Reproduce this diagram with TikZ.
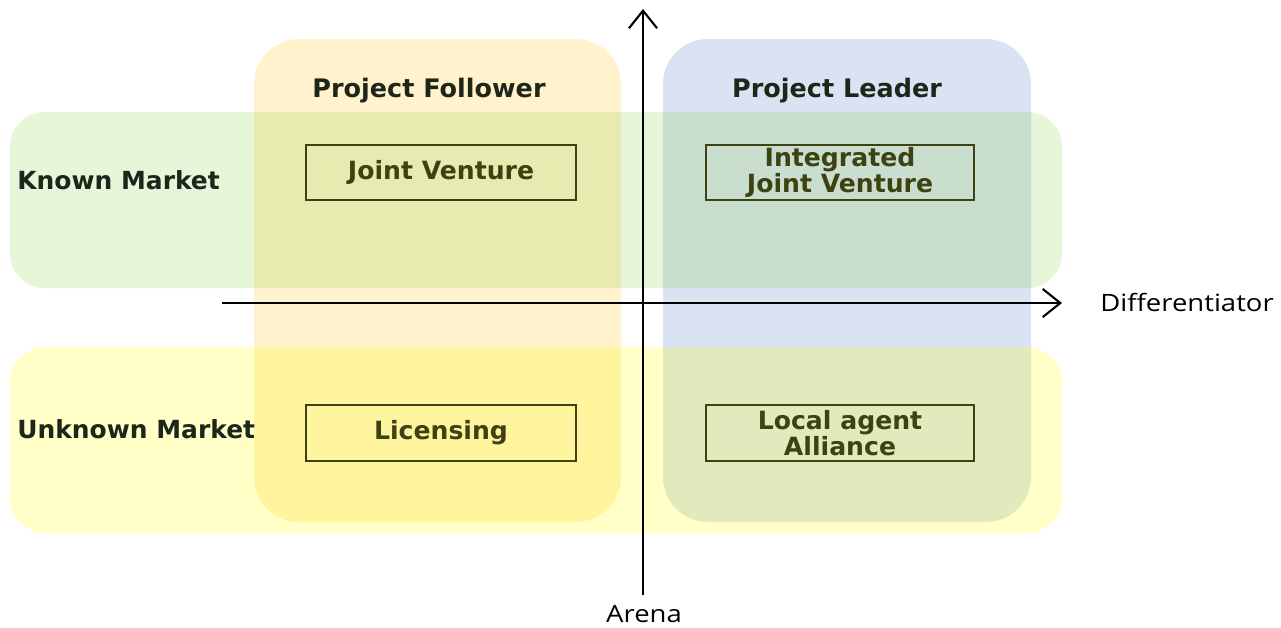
\documentclass[tikz,border=0pt]{standalone}
\usepackage{fontspec}
\setmainfont{DejaVu Sans}
\newfontfamily\boldf{DejaVu Sans}
\newfontfamily\regf[FakeStretch=1.15]{Open Sans}
\usetikzlibrary{arrows.meta}
\definecolor{corange}{HTML}{FFC000}
\definecolor{cblue}{HTML}{4472C4}
\definecolor{cgreen}{HTML}{92D050}
\definecolor{cyellow}{HTML}{FFFF00}
\definecolor{olive}{HTML}{3E4212}
\definecolor{darktxt}{HTML}{1E261A}
\tikzset{
  column/.style={fill opacity=0.2, rounded corners=0.9cm},
  band/.style={fill opacity=0.22, rounded corners=0.7cm},
  header/.style={font=\boldf\bfseries\fontsize{14.5}{15}\selectfont, text=darktxt, inner sep=0pt},
  rowlabel/.style={font=\boldf\bfseries\fontsize{14.2}{15}\selectfont, text=darktxt, anchor=west, inner sep=0pt},
  cell/.style={draw=olive, line width=1.2pt, text=olive, align=center, inner sep=0pt,
    font=\boldf\bfseries\fontsize{14.3}{13.8}\selectfont},
  axislabel/.style={font=\regf\fontsize{13.6}{14}\selectfont, text=black, inner sep=0pt},
  axis/.style={line width=1.2pt, -{Straight Barb[length=10pt,width=16pt,line width=1.2pt]}}
}
\begin{document}
\begin{tikzpicture}[x=0.02cm, y=-0.02cm]
\useasboundingbox (0,0) rectangle (1281,627);
% columns
\fill[column, corange] (254,39) rectangle (621,522);
\fill[column, cblue] (663,39) rectangle (1031,522);
% bands
\fill[band, cgreen] (10,112) rectangle (1062,288);
\fill[band, cyellow] (10,347) rectangle (1062,533);
% axes
\coordinate (xs) at (222,303);
\coordinate (xe) at (1062,303);
\coordinate (ys) at (643,595);
\coordinate (ye) at (643,9);
\draw[axis] (xs) -- (xe);
\draw[axis] (ys) -- (ye);
% headers
\node[header] (pf) at (429,91) {Project Follower};
\node[header] (pl) at (837,91) {Project Leader};
\node[rowlabel] (km) at (17,180) {Known Market};
\node[rowlabel] (um) at (17,429) {Unknown Market};
% cells
\node[cell, minimum width=270*0.02cm, minimum height=55*0.02cm] (jv) at (441,172.5) {Joint Venture};
\node[cell, minimum width=268*0.02cm, minimum height=55*0.02cm] (ijv) at (840,172.5) {Integrated\\Joint Venture};
\node[cell, minimum width=270*0.02cm, minimum height=56*0.02cm] (lic) at (441,433) {Licensing};
\node[cell, minimum width=268*0.02cm, minimum height=56*0.02cm] (laa) at (840,433) {Local agent\\Alliance};
% axis labels
\node[axislabel, anchor=west] (diff) at (1100,302) {Differentiator};
\node[axislabel] (arena) at (644,614) {Arena};
\end{tikzpicture}
\end{document}
